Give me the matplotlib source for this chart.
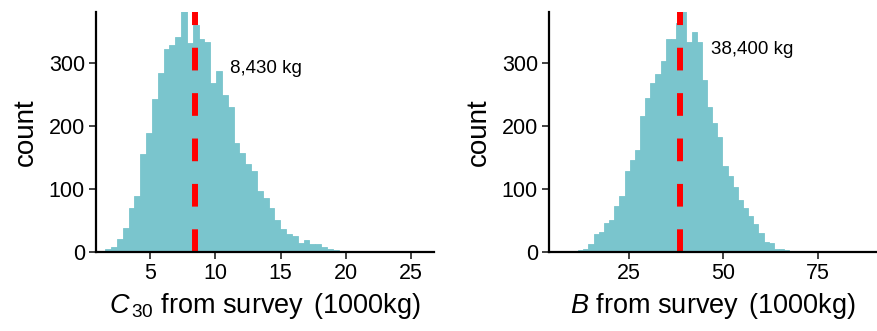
import matplotlib
matplotlib.use("Agg")
import matplotlib.pyplot as plt
import numpy as np

plt.rcParams['font.family'] = ['Liberation Sans', 'DejaVu Sans']
plt.rcParams['mathtext.fontset'] = 'custom'
plt.rcParams['mathtext.rm'] = 'Liberation Sans'
plt.rcParams['mathtext.it'] = 'Liberation Sans:italic'

# --- donnees ---
# C30 (1000 kg) : bords des classes et effectifs
c30_first_edge = 1.572
c30_binwidth = 0.447
c30_counts = [4, 8, 21, 38, 70, 89, 155, 188, 242, 284, 322, 327, 340, 395,
              331, 360, 338, 332, 268, 287, 249, 229, 173, 156, 139, 129, 96,
              85, 69, 51, 37, 28, 26, 15, 19, 13, 13, 8, 5, 3, 2, 2, 1, 0, 0,
              0, 1]
c30_mean = 8.43
c30_label = "8,430 kg"

# B (1000 kg)
b_first_edge = 7.41
b_binwidth = 1.366
b_counts = [1, 1, 2, 3, 5, 12, 28, 32, 46, 51, 73, 88, 128, 146, 161, 215,
            244, 267, 282, 302, 337, 337, 363, 390, 333, 349, 333, 273, 229,
            205, 182, 136, 120, 103, 82, 69, 57, 44, 30, 16, 15, 5, 4, 3, 2, 1]
b_mean = 38.4
b_label = "38,400 kg"

c30_xticks = [5, 10, 15, 20, 25]
b_xticks = [25, 50, 75]
y_ticks = [0, 100, 200, 300]

BAR_COLOR = '#7AC5CD'


def draw_panel(ax, first_edge, width, counts, mean, label, label_xy, xlim, xticks, xlabel):
    edges = first_edge + width * np.arange(len(counts))
    ax.bar(edges, counts, width=width, align='edge', color=BAR_COLOR,
           edgecolor=BAR_COLOR, linewidth=0.6)
    ax.axvline(mean, color='red', linewidth=4.3, dashes=(3.8, 3.8))
    ax.text(label_xy[0], label_xy[1], label, fontsize=13.5, ha='left', va='center')
    ax.set_xlim(*xlim)
    ax.set_ylim(0, 380)
    ax.set_xticks(xticks)
    ax.set_yticks(y_ticks)
    for s in ['top', 'right']:
        ax.spines[s].set_visible(False)
    for s in ['left', 'bottom']:
        ax.spines[s].set_linewidth(1.6)
        ax.spines[s].set_color('black')
    ax.tick_params(axis='both', labelsize=15.5, length=5, width=1.3, pad=3,
                   color='#333333', labelcolor='black')
    ax.set_ylabel('count', fontsize=20, labelpad=7)
    ax.set_xlabel(xlabel, fontsize=19.5, labelpad=5)


fig = plt.figure(figsize=(8.78, 3.31), dpi=100)
ax1 = fig.add_axes([96 / 878, 79 / 331, 338 / 878, 240 / 331])
ax2 = fig.add_axes([549 / 878, 79 / 331, 329 / 878, 240 / 331])

draw_panel(ax1, c30_first_edge, c30_binwidth, c30_counts, c30_mean, c30_label,
           (11.13, 290), (0.86, 26.76), c30_xticks,
           r'$\mathit{C}_{\,30}$ from survey $\,\left(\mathrm{1000kg}\right)$')
draw_panel(ax2, b_first_edge, b_binwidth, b_counts, b_mean, b_label,
           (46.75, 320), (3.78, 91.0), b_xticks,
           r'$\mathit{B}$ from survey $\,\left(\mathrm{1000kg}\right)$')

fig.savefig('out.png', dpi=100)
